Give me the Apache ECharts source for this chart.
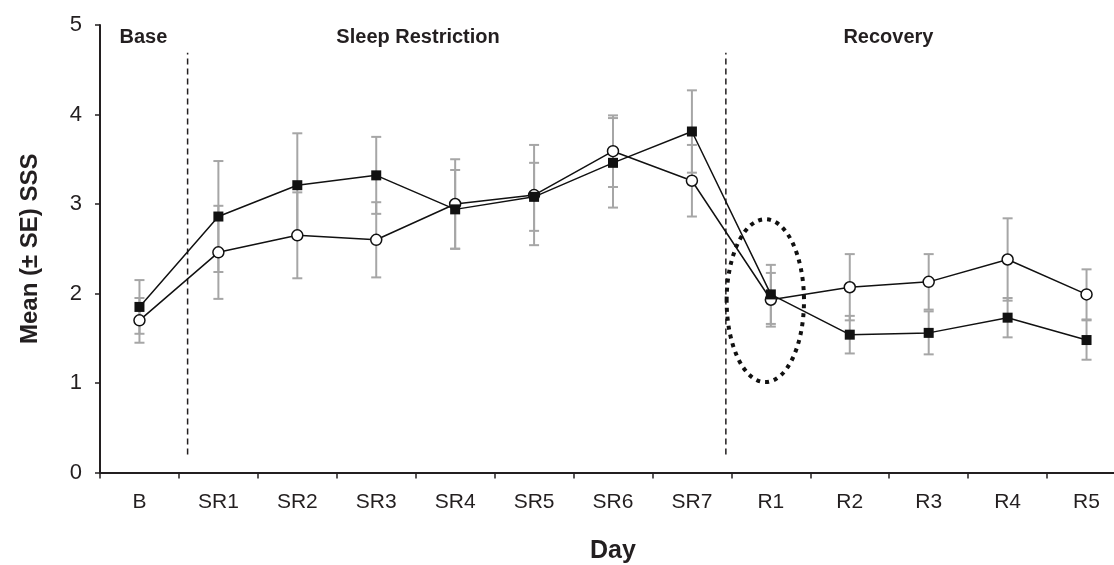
<!DOCTYPE html>
<html>
<head>
    <meta charset="utf-8">
    <script src="https://cdn.jsdelivr.net/npm/echarts@6/dist/echarts.min.js"></script>
    <style>
        html, body { margin: 0; padding: 0; background: #fff; }
        #main { width: 1114px; height: 565px; }
    </style>
</head>
<body>
<div id="main"></div>
<script type="text/javascript">
// 天数（x轴类目）
var days = ['B', 'SR1', 'SR2', 'SR3', 'SR4', 'SR5', 'SR6', 'SR7', 'R1', 'R2', 'R3', 'R4', 'R5'];
// 实心方块组：均值和标准误
var squareMean = [1.85, 2.86, 3.21, 3.32, 2.94, 3.08, 3.46, 3.81, 1.99, 1.54, 1.56, 1.73, 1.48];
var squareSE   = [0.30, 0.62, 0.58, 0.43, 0.44, 0.38, 0.50, 0.46, 0.33, 0.21, 0.24, 0.22, 0.22];
// 空心圆组：均值和标准误
var circleMean = [1.70, 2.46, 2.65, 2.60, 3.00, 3.10, 3.59, 3.26, 1.93, 2.07, 2.13, 2.38, 1.99];
var circleSE   = [0.25, 0.52, 0.48, 0.42, 0.50, 0.56, 0.40, 0.40, 0.30, 0.37, 0.31, 0.46, 0.28];
// 阶段标签 和 分隔虚线（x 为类目序号坐标）
var phaseNames = ['Base', 'Sleep Restriction', 'Recovery'];
var phaseX = [0.05, 3.53, 9.49];
var phaseY = 4.86;
var dividerX = [0.61, 7.43];
var dividerRange = [0.2, 4.69];
// R1 处的虚线椭圆：中心 x, 中心 y, 半径 x, 半径 y
var ellipse = [7.93, 1.92, 0.49, 0.91];

var ink = '#231f20';
var font = '"Liberation Sans", Arial, Helvetica, sans-serif';

function errData(mean, se) {
    var out = [];
    for (var i = 0; i < mean.length; i++) {
        out.push([i, mean[i] - se[i], mean[i] + se[i]]);
    }
    return out;
}

// 误差线：竖线 + 上下两个短横
function renderErr(params, api) {
    var x = api.value(0);
    var lo = api.coord([x, api.value(1)]);
    var hi = api.coord([x, api.value(2)]);
    var w = 5;
    var st = { stroke: '#a6a6a6', lineWidth: 2 };
    return {
        type: 'group',
        children: [
            { type: 'line', shape: { x1: hi[0], y1: hi[1], x2: lo[0], y2: lo[1] }, style: st },
            { type: 'line', shape: { x1: hi[0] - w, y1: hi[1], x2: hi[0] + w, y2: hi[1] }, style: st },
            { type: 'line', shape: { x1: lo[0] - w, y1: lo[1], x2: lo[0] + w, y2: lo[1] }, style: st }
        ]
    };
}

var dividerData = dividerX.map(function (x) { return [x, dividerRange[0], dividerRange[1]]; });
var phaseData = phaseNames.map(function (n, i) { return [phaseX[i], phaseY, n]; });

var myChart = echarts.init(document.getElementById('main'));

var option = {
    animation: false,
    backgroundColor: '#fff',
    grid: { left: 100, right: -12, top: 25, bottom: 92.5, outerBoundsMode: 'none', containLabel: false },
    xAxis: [{
        type: 'category',
        data: days,
        name: 'Day',
        nameLocation: 'middle',
        nameGap: 66,
        nameTextStyle: { fontFamily: font, fontWeight: 'bold', fontSize: 25, color: ink },
        axisLine: { lineStyle: { color: ink, width: 2 } },
        axisTick: { show: true, length: 6, lineStyle: { color: ink, width: 1.5 } },
        axisLabel: { margin: 19, fontFamily: font, fontSize: 21, color: ink },
        splitLine: { show: false }
    }, {
        type: 'value',
        min: -0.5,
        max: 12.5,
        show: false
    }],
    yAxis: {
        type: 'value',
        min: 0,
        max: 5,
        interval: 1,
        name: 'Mean (± SE) SSS',
        nameLocation: 'middle',
        nameRotate: 90,
        nameGap: 58,
        nameTextStyle: { fontFamily: font, fontWeight: 'bold', fontSize: 24, color: ink },
        axisLine: { show: true, onZero: false, lineStyle: { color: ink, width: 2 } },
        axisTick: { show: true, length: 5, lineStyle: { color: ink, width: 1.5 } },
        axisLabel: { margin: 18, fontFamily: font, fontSize: 22, color: ink },
        splitLine: { show: false }
    },
    series: [
        {
            // 分隔虚线
            type: 'custom',
            xAxisIndex: 1,
            data: dividerData,
            renderItem: function (params, api) {
                var a = api.coord([api.value(0), api.value(1)]);
                var b = api.coord([api.value(0), api.value(2)]);
                return {
                    type: 'line',
                    shape: { x1: a[0], y1: a[1], x2: b[0], y2: b[1] },
                    style: { stroke: ink, lineWidth: 1.5, lineDash: [6, 4] }
                };
            },
            z: 1
        },
        {
            // 阶段文字
            type: 'custom',
            xAxisIndex: 1,
            data: phaseData,
            renderItem: function (params, api) {
                var p = api.coord([api.value(0), api.value(1)]);
                return {
                    type: 'text',
                    x: p[0], y: p[1],
                    style: {
                        text: phaseNames[params.dataIndex],
                        fill: ink,
                        font: 'bold 20px ' + font,
                        textAlign: 'center',
                        textVerticalAlign: 'middle'
                    }
                };
            },
            z: 1
        },
        {
            type: 'custom',
            name: 'circleErr',
            data: errData(circleMean, circleSE),
            renderItem: renderErr,
            z: 2
        },
        {
            type: 'custom',
            name: 'squareErr',
            data: errData(squareMean, squareSE),
            renderItem: renderErr,
            z: 2
        },
        {
            type: 'line',
            name: 'circle',
            data: circleMean,
            symbol: 'circle',
            symbolSize: 11,
            lineStyle: { color: '#111', width: 1.5 },
            itemStyle: { color: '#fff', borderColor: '#111', borderWidth: 1.5 },
            z: 3
        },
        {
            type: 'line',
            name: 'square',
            data: squareMean,
            symbol: 'rect',
            symbolSize: 10,
            lineStyle: { color: '#111', width: 1.5 },
            itemStyle: { color: '#111', borderColor: '#111', borderWidth: 0 },
            z: 4
        },
        {
            // R1 虚线椭圆
            type: 'custom',
            xAxisIndex: 1,
            data: [ellipse],
            renderItem: function (params, api) {
                var c = api.coord([api.value(0), api.value(1)]);
                var s = api.size([api.value(2), api.value(3)]);
                return {
                    type: 'ellipse',
                    shape: { cx: c[0], cy: c[1], rx: s[0], ry: s[1] },
                    style: { fill: null, stroke: '#111', lineWidth: 4, lineDash: [4, 5] }
                };
            },
            z: 5
        }
    ]
};

myChart.setOption(option);
</script>
</body>
</html>
